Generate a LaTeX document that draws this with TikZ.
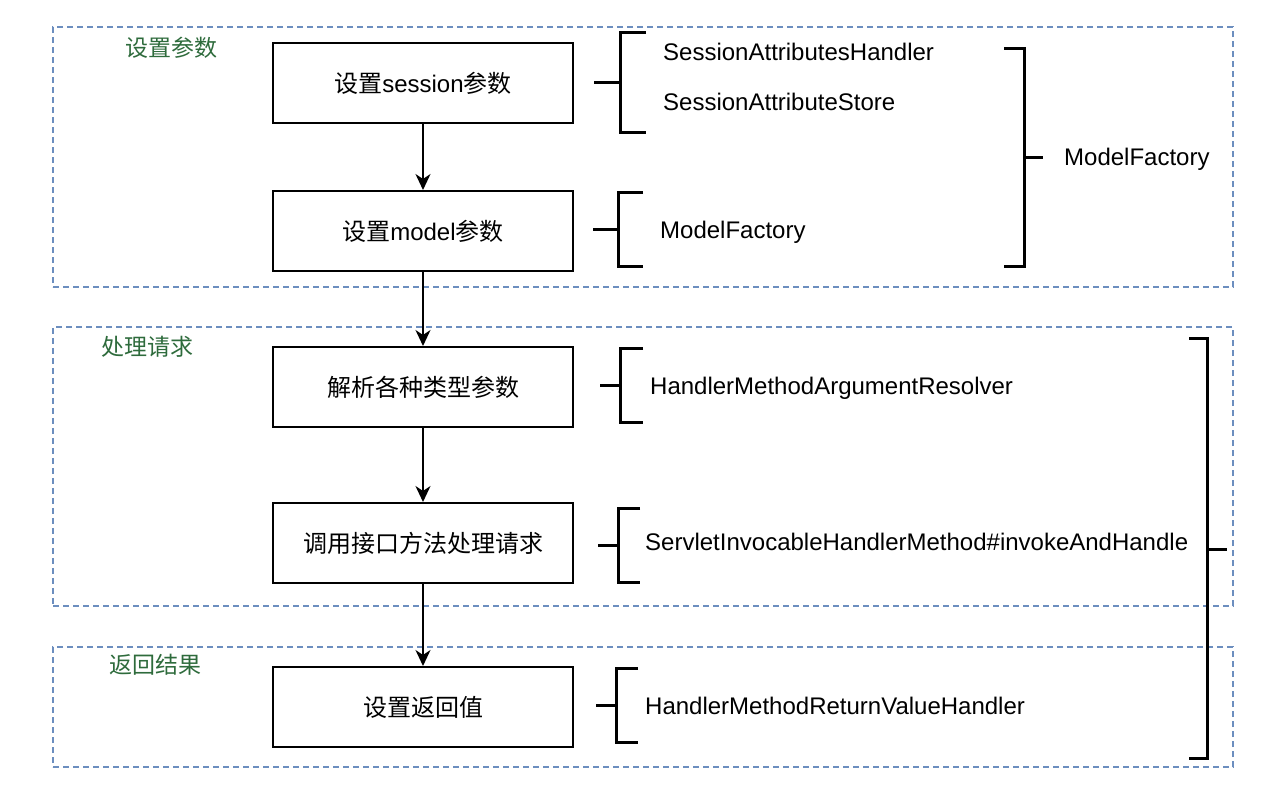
\documentclass[tikz,border=0pt]{standalone}
\usepackage{fontspec}
\setmainfont{Liberation Sans}
\newfontfamily\cjkfont{Noto Sans CJK SC}
\newcommand{\hanzi}[1]{{\cjkfont #1}}
\usetikzlibrary{arrows.meta}
\definecolor{groupblue}{HTML}{6C8EBF}
\definecolor{groupgreen}{HTML}{2E6B3C}

\begin{document}
\begin{tikzpicture}[x=1pt, y=-1pt,
		every node/.style={font=\fontsize{24}{28}\selectfont},
		stepbox/.style={draw, line width=2pt, minimum width=300pt, minimum height=80pt, inner sep=0pt},
		groupbox/.style={draw=groupblue, line width=1.5pt, dash pattern=on 6pt off 4pt, minimum width=1180pt, inner sep=0pt},
		grouplabel/.style={text=groupgreen, font=\cjkfont\fontsize{23}{28}\selectfont},
		classname/.style={anchor=base west, inner sep=0pt},
		flow/.style={-{Stealth[length=16pt, width=15pt, inset=5pt]}, line width=2pt},
		brace/.style={line width=3pt}
	]
		\useasboundingbox (0,0) rectangle (1286,798);

		\node[groupbox, minimum height=260pt] (setparams) at (643,157) {};
		\node[groupbox, minimum height=279pt] (handlereq) at (643,466.5) {};
		\node[groupbox, minimum height=120pt] (returnres) at (643,707) {};

		\node[grouplabel] (setparamslabel) at (171,48) {设置参数};
		\node[grouplabel] (handlereqlabel) at (147,347) {处理请求};
		\node[grouplabel] (returnreslabel) at (155,665) {返回结果};

		\node[stepbox] (session) at (423,83) {\hanzi{设置}session\hanzi{参数}};
		\node[stepbox] (model) at (423,231) {\hanzi{设置}model\hanzi{参数}};
		\node[stepbox] (resolve) at (423,387) {\hanzi{解析各种类型参数}};
		\node[stepbox] (invoke) at (423,543) {\hanzi{调用接口方法处理请求}};
		\node[stepbox] (retval) at (423,707) {\hanzi{设置返回值}};

		\draw[flow] (session) -- (model);
		\draw[flow] (model) -- (resolve);
		\draw[flow] (resolve) -- (invoke);
		\draw[flow] (invoke) -- (retval);

		\node[classname] (attrhandler) at (663,60.6) {SessionAttributesHandler};
		\node[classname] (attrstore) at (663,110.6) {SessionAttributeStore};
		\node[classname] (factorysmall) at (660,238.6) {ModelFactory};
		\node[classname] (factorybig) at (1064,165.6) {ModelFactory};
		\node[classname] (argresolver) at (650,394.6) {HandlerMethodArgumentResolver};
		\node[classname] (invokehandle) at (645,550.6) {ServletInvocableHandlerMethod\#invokeAndHandle};
		\node[classname] (rethandler) at (645,714.6) {HandlerMethodReturnValueHandler};

		\draw[brace] (594,82) -- (620,82);
		\draw[brace] (646,32) -- (620,32) -- (620,132) -- (646,132);
		\draw[brace] (593,229) -- (618,229);
		\draw[brace] (643,192) -- (618,192) -- (618,266) -- (643,266);
		\draw[brace] (1004,48) -- (1024,48) -- (1024,266) -- (1004,266);
		\draw[brace] (1024,157) -- (1043,157);

		\draw[brace] (600,385) -- (620,385);
		\draw[brace] (643,348) -- (620,348) -- (620,422) -- (643,422);
		\draw[brace] (598,545) -- (618,545);
		\draw[brace] (640,508) -- (618,508) -- (618,582) -- (640,582);
		\draw[brace] (596,705) -- (616,705);
		\draw[brace] (638,668) -- (616,668) -- (616,742) -- (638,742);
		\draw[brace] (1189,338) -- (1207,338) -- (1207,758) -- (1189,758);
		\draw[brace] (1207,549) -- (1227,549);
	\end{tikzpicture}
\end{document}
